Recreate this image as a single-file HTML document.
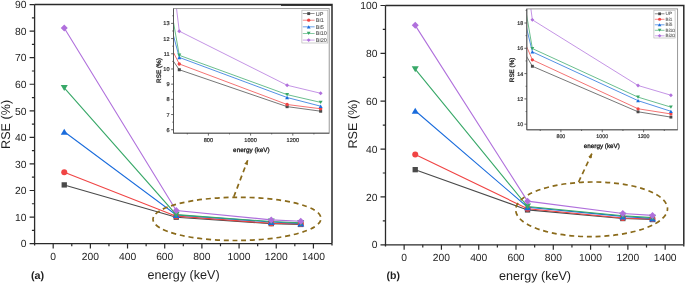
<!DOCTYPE html>
<html><head><meta charset="utf-8"><style>
html,body{margin:0;padding:0;background:#fff;width:685px;height:283px;overflow:hidden}
svg{display:block;will-change:transform}
text{font-family:"Liberation Sans", sans-serif;font-size:10.3px;fill:#1e1e1e;text-rendering:geometricPrecision}
.s{stroke:#333;stroke-width:0.2px}
.t{stroke:#222;stroke-width:0.3px;fill:#1a1a1a}
.g{stroke:#777;stroke-width:0.08px;fill:#444}
</style></head><body>
<svg width="685" height="283" viewBox="0 0 685 283">
<rect width="685" height="283" fill="#fff"/>
<path d="M34.6 4.6H332V243.6" fill="none" stroke="#2a2a2a" stroke-width="1.5"/>
<path d="M281 5.4H332" fill="none" stroke="#2a2a2a" stroke-width="1"/>
<path d="M34.6 4.6V243.6H332" fill="none" stroke="#2a2a2a" stroke-width="1.3"/>
<path d="M34.6 243.6V245.4M332 243.6V245.4" fill="none" stroke="#2a2a2a" stroke-width="1.3"/>
<text x="26.4" y="247.29" text-anchor="end">0</text>
<text x="26.4" y="220.73" text-anchor="end">10</text>
<text x="26.4" y="194.18" text-anchor="end">20</text>
<text x="26.4" y="167.62" text-anchor="end">30</text>
<text x="26.4" y="141.06" text-anchor="end">40</text>
<text x="26.4" y="114.51" text-anchor="end">50</text>
<text x="26.4" y="87.95" text-anchor="end">60</text>
<text x="26.4" y="61.4" text-anchor="end">70</text>
<text x="26.4" y="34.84" text-anchor="end">80</text>
<text x="26.4" y="8.28" text-anchor="end">90</text>
<text x="53.19" y="259.6" text-anchor="middle">0</text>
<text x="90.37" y="259.6" text-anchor="middle">200</text>
<text x="127.54" y="259.6" text-anchor="middle">400</text>
<text x="164.72" y="259.6" text-anchor="middle">600</text>
<text x="201.89" y="259.6" text-anchor="middle">800</text>
<text x="239.07" y="259.6" text-anchor="middle">1000</text>
<text x="276.25" y="259.6" text-anchor="middle">1200</text>
<text x="313.42" y="259.6" text-anchor="middle">1400</text>
<path d="M29.6 243.6H34.6M29.6 217.04H34.6M29.6 190.49H34.6M29.6 163.93H34.6M29.6 137.38H34.6M29.6 110.82H34.6M29.6 84.26H34.6M29.6 57.71H34.6M29.6 31.15H34.6M29.6 4.6H34.6M31.9 230.32H34.6M31.9 203.77H34.6M31.9 177.21H34.6M31.9 150.65H34.6M31.9 124.1H34.6M31.9 97.54H34.6M31.9 70.99H34.6M31.9 44.43H34.6M31.9 17.87H34.6M53.19 243.6V248.6M90.37 243.6V248.6M127.54 243.6V248.6M164.72 243.6V248.6M201.89 243.6V248.6M239.07 243.6V248.6M276.25 243.6V248.6M313.42 243.6V248.6M71.78 243.6V246.3M108.95 243.6V246.3M146.13 243.6V246.3M183.31 243.6V246.3M220.48 243.6V246.3M257.66 243.6V246.3M294.83 243.6V246.3" fill="none" stroke="#2a2a2a" stroke-width="1.2"/>
<text x="183.6" y="278.6" text-anchor="middle" style="font-size:12.6px">energy (keV)</text>
<text transform="translate(10 124.4) rotate(-90)" text-anchor="middle" style="font-size:12.6px">RSE (%)</text>
<text x="31" y="278.8" style="font-size:10.8px;font-weight:bold">(a)</text>
<polyline points="64.25,184.91 176.24,217.18 271.23,223.63 300.78,224.43" fill="none" stroke="#4a4a4a" stroke-width="1.1"/>
<polyline points="64.25,172.16 176.24,216.17 271.23,223.26 300.78,224" fill="none" stroke="#f04444" stroke-width="1.1"/>
<polyline points="64.25,131.8 176.24,215.03 271.23,222.04 300.78,223.55" fill="none" stroke="#1a6cdc" stroke-width="1.1"/>
<polyline points="64.25,87.98 176.24,214.65 271.23,221.53 300.78,222.89" fill="none" stroke="#38a868" stroke-width="1.1"/>
<polyline points="64.25,27.97 176.24,210.43 271.23,219.89 300.78,221.29" fill="none" stroke="#b070dc" stroke-width="1.1"/>
<rect x="61.59" y="182.25" width="5.32" height="5.32" fill="#4a4a4a"/>
<rect x="173.58" y="214.52" width="5.32" height="5.32" fill="#4a4a4a"/>
<rect x="268.57" y="220.97" width="5.32" height="5.32" fill="#4a4a4a"/>
<rect x="298.12" y="221.77" width="5.32" height="5.32" fill="#4a4a4a"/>
<circle cx="64.25" cy="172.16" r="3.01" fill="#f04444"/>
<circle cx="176.24" cy="216.17" r="3.01" fill="#f04444"/>
<circle cx="271.23" cy="223.26" r="3.01" fill="#f04444"/>
<circle cx="300.78" cy="224" r="3.01" fill="#f04444"/>
<path d="M64.25 128.79L67.75 134.81L60.75 134.81Z" fill="#1a6cdc"/>
<path d="M176.24 212.02L179.74 218.04L172.74 218.04Z" fill="#1a6cdc"/>
<path d="M271.23 219.03L274.73 225.05L267.73 225.05Z" fill="#1a6cdc"/>
<path d="M300.78 220.54L304.28 226.56L297.28 226.56Z" fill="#1a6cdc"/>
<path d="M60.75 84.97L67.75 84.97L64.25 90.99Z" fill="#38a868"/>
<path d="M172.74 211.64L179.74 211.64L176.24 217.66Z" fill="#38a868"/>
<path d="M267.73 218.52L274.73 218.52L271.23 224.54Z" fill="#38a868"/>
<path d="M297.28 219.88L304.28 219.88L300.78 225.9Z" fill="#38a868"/>
<path d="M64.25 24.47L67.75 27.97L64.25 31.47L60.75 27.97Z" fill="#b070dc"/>
<path d="M176.24 206.93L179.74 210.43L176.24 213.93L172.74 210.43Z" fill="#b070dc"/>
<path d="M271.23 216.39L274.73 219.89L271.23 223.39L267.73 219.89Z" fill="#b070dc"/>
<path d="M300.78 217.79L304.28 221.29L300.78 224.79L297.28 221.29Z" fill="#b070dc"/>
<ellipse cx="237" cy="218.9" rx="84" ry="21.6" transform="rotate(-0.3 237 218.9)" fill="none" stroke="#8a6a1a" stroke-width="1.7" stroke-dasharray="5 3.8" stroke-dashoffset="6.9"/>
<path d="M233.8 196.8L247.7 160.2" fill="none" stroke="#8a6a1a" stroke-width="1.7" stroke-dasharray="5 3.8"/>
<path d="M247.7 160.2L247.84 165.17L244.29 163.83Z" fill="#8a6a1a"/>
<rect x="173.5" y="8.6" width="155.7" height="124.6" fill="#fff"/>
<clipPath id="ca"><rect x="173.5" y="8.6" width="155.7" height="124.6"/></clipPath>
<g clip-path="url(#ca)">
<polyline points="52.15,-114.83 179.28,69.73 287.1,106.64 320.65,111.2" fill="none" stroke="#4a4a4a" stroke-width="0.75"/>
<polyline points="52.15,-187.74 179.28,63.96 287.1,104.51 320.65,108.77" fill="none" stroke="#f04444" stroke-width="0.75"/>
<polyline points="52.15,-418.63 179.28,57.43 287.1,97.53 320.65,106.19" fill="none" stroke="#1a6cdc" stroke-width="0.75"/>
<polyline points="52.15,-669.26 179.28,55.3 287.1,94.64 320.65,102.39" fill="none" stroke="#38a868" stroke-width="0.75"/>
<polyline points="52.15,-1012.56 179.28,31.15 287.1,85.22 320.65,93.27" fill="none" stroke="#b070dc" stroke-width="0.75"/>
<rect x="177.76" y="68.21" width="3.04" height="3.04" fill="#4a4a4a"/>
<rect x="285.58" y="105.12" width="3.04" height="3.04" fill="#4a4a4a"/>
<rect x="319.13" y="109.68" width="3.04" height="3.04" fill="#4a4a4a"/>
<circle cx="179.28" cy="63.96" r="1.72" fill="#f04444"/>
<circle cx="287.1" cy="104.51" r="1.72" fill="#f04444"/>
<circle cx="320.65" cy="108.77" r="1.72" fill="#f04444"/>
<path d="M179.28 55.71L181.28 59.15L177.28 59.15Z" fill="#1a6cdc"/>
<path d="M287.1 95.81L289.1 99.25L285.1 99.25Z" fill="#1a6cdc"/>
<path d="M320.65 104.47L322.65 107.91L318.65 107.91Z" fill="#1a6cdc"/>
<path d="M177.28 53.58L181.28 53.58L179.28 57.02Z" fill="#38a868"/>
<path d="M285.1 92.92L289.1 92.92L287.1 96.36Z" fill="#38a868"/>
<path d="M318.65 100.67L322.65 100.67L320.65 104.11Z" fill="#38a868"/>
<path d="M179.28 29.15L181.28 31.15L179.28 33.15L177.28 31.15Z" fill="#b070dc"/>
<path d="M287.1 83.22L289.1 85.22L287.1 87.22L285.1 85.22Z" fill="#b070dc"/>
<path d="M320.65 91.27L322.65 93.27L320.65 95.27L318.65 93.27Z" fill="#b070dc"/>
</g>
<rect x="173.5" y="8.6" width="155.7" height="124.6" fill="none" stroke="#8c8c8c" stroke-width="0.9"/>
<path d="M173.5 8.6V133.2H329.2" fill="none" stroke="#505050" stroke-width="0.95"/>
<text class="s" x="169.6" y="131.73" text-anchor="end" style="font-size:5.6px">6</text>
<text class="s" x="169.6" y="116.54" text-anchor="end" style="font-size:5.6px">7</text>
<text class="s" x="169.6" y="101.35" text-anchor="end" style="font-size:5.6px">8</text>
<text class="s" x="169.6" y="86.16" text-anchor="end" style="font-size:5.6px">9</text>
<text class="s" x="169.6" y="70.97" text-anchor="end" style="font-size:5.6px">10</text>
<text class="s" x="169.6" y="55.78" text-anchor="end" style="font-size:5.6px">11</text>
<text class="s" x="169.6" y="40.59" text-anchor="end" style="font-size:5.6px">12</text>
<text class="s" x="169.6" y="25.4" text-anchor="end" style="font-size:5.6px">13</text>
<text class="s" x="208.4" y="142" text-anchor="middle" style="font-size:5.6px">800</text>
<text class="s" x="250.6" y="142" text-anchor="middle" style="font-size:5.6px">1000</text>
<text class="s" x="292.8" y="142" text-anchor="middle" style="font-size:5.6px">1200</text>
<path d="M171.1 129.73H173.5M171.1 114.54H173.5M171.1 99.35H173.5M171.1 84.16H173.5M171.1 68.97H173.5M171.1 53.78H173.5M171.1 38.59H173.5M171.1 23.4H173.5M172.3 122.13H173.5M172.3 106.94H173.5M172.3 91.75H173.5M172.3 76.56H173.5M172.3 61.38H173.5M172.3 46.19H173.5M172.3 30.99H173.5M172.3 15.8H173.5M208.4 133.2V135.6M250.6 133.2V135.6M292.8 133.2V135.6M187.3 133.2V134.4M229.5 133.2V134.4M271.7 133.2V134.4M313.9 133.2V134.4" fill="none" stroke="#444" stroke-width="0.8"/>
<text class="t" x="251.4" y="151.5" text-anchor="middle" style="font-size:6.4px">energy (keV)</text>
<text class="t" transform="translate(160.6 70.5) rotate(-90)" text-anchor="middle" style="font-size:6.4px">RSE (%)</text>
<rect x="301.9" y="10.2" width="25.9" height="32.8" fill="#fff" stroke="#aaa" stroke-width="0.6"/>
<path d="M302.8 13.6H314.6" stroke="#4a4a4a" stroke-width="0.75" opacity="0.85"/>
<rect x="307.26" y="12.16" width="2.89" height="2.89" fill="#4a4a4a"/>
<text class="g" x="315.8" y="15.58" style="font-size:5.5px">UP</text>
<path d="M302.8 20.22H314.6" stroke="#f04444" stroke-width="0.75" opacity="0.85"/>
<circle cx="308.7" cy="20.22" r="1.63" fill="#f04444"/>
<text class="g" x="315.8" y="22.2" style="font-size:5.5px">Bi1</text>
<path d="M302.8 26.84H314.6" stroke="#1a6cdc" stroke-width="0.75" opacity="0.85"/>
<path d="M308.7 25.21L310.6 28.47L306.8 28.47Z" fill="#1a6cdc"/>
<text class="g" x="315.8" y="28.82" style="font-size:5.5px">Bi5</text>
<path d="M302.8 33.46H314.6" stroke="#38a868" stroke-width="0.75" opacity="0.85"/>
<path d="M306.8 31.83L310.6 31.83L308.7 35.09Z" fill="#38a868"/>
<text class="g" x="315.8" y="35.44" style="font-size:5.5px">Bi10</text>
<path d="M302.8 40.08H314.6" stroke="#b070dc" stroke-width="0.75" opacity="0.85"/>
<path d="M308.7 38.18L310.6 40.08L308.7 41.98L306.8 40.08Z" fill="#b070dc"/>
<text class="g" x="315.8" y="42.06" style="font-size:5.5px">Bi20</text>
<path d="M385.5 5.5H683.8V244.8" fill="none" stroke="#2a2a2a" stroke-width="1.5"/>
<path d="M385.5 5.5V244.8H683.8" fill="none" stroke="#2a2a2a" stroke-width="1.3"/>
<path d="M385.5 244.8V246.6M683.8 244.8V246.6" fill="none" stroke="#2a2a2a" stroke-width="1.3"/>
<text x="377.5" y="248.49" text-anchor="end">0</text>
<text x="377.5" y="200.63" text-anchor="end">20</text>
<text x="377.5" y="152.77" text-anchor="end">40</text>
<text x="377.5" y="104.91" text-anchor="end">60</text>
<text x="377.5" y="57.05" text-anchor="end">80</text>
<text x="377.5" y="9.19" text-anchor="end">100</text>
<text x="404.14" y="261" text-anchor="middle">0</text>
<text x="441.43" y="261" text-anchor="middle">200</text>
<text x="478.72" y="261" text-anchor="middle">400</text>
<text x="516" y="261" text-anchor="middle">600</text>
<text x="553.29" y="261" text-anchor="middle">800</text>
<text x="590.58" y="261" text-anchor="middle">1000</text>
<text x="627.87" y="261" text-anchor="middle">1200</text>
<text x="665.16" y="261" text-anchor="middle">1400</text>
<path d="M380.5 244.8H385.5M380.5 196.94H385.5M380.5 149.08H385.5M380.5 101.22H385.5M380.5 53.36H385.5M380.5 5.5H385.5M382.8 220.87H385.5M382.8 173.01H385.5M382.8 125.15H385.5M382.8 77.29H385.5M382.8 29.43H385.5M404.14 244.8V249.8M441.43 244.8V249.8M478.72 244.8V249.8M516 244.8V249.8M553.29 244.8V249.8M590.58 244.8V249.8M627.87 244.8V249.8M665.16 244.8V249.8M422.78 244.8V247.5M460.07 244.8V247.5M497.36 244.8V247.5M534.65 244.8V247.5M571.94 244.8V247.5M609.22 244.8V247.5M646.51 244.8V247.5" fill="none" stroke="#2a2a2a" stroke-width="1.2"/>
<text x="535" y="279.5" text-anchor="middle" style="font-size:12.6px">energy (keV)</text>
<text transform="translate(357 124) rotate(-90)" text-anchor="middle" style="font-size:12.6px">RSE (%)</text>
<text x="386.5" y="279" style="font-size:10.5px;font-weight:bold">(b)</text>
<polyline points="415.23,169.66 527.56,209.91 622.83,218.52 652.48,219.53" fill="none" stroke="#4a4a4a" stroke-width="1.1"/>
<polyline points="415.23,154.58 527.56,208.69 622.83,217.95 652.48,218.93" fill="none" stroke="#f04444" stroke-width="1.1"/>
<polyline points="415.23,110.79 527.56,207.18 622.83,216.42 652.48,218.43" fill="none" stroke="#1a6cdc" stroke-width="1.1"/>
<polyline points="415.23,69.15 527.56,206.56 622.83,215.75 652.48,217.64" fill="none" stroke="#38a868" stroke-width="1.1"/>
<polyline points="415.23,25.36 527.56,201.13 622.83,213.55 652.48,215.39" fill="none" stroke="#b070dc" stroke-width="1.1"/>
<rect x="412.57" y="167" width="5.32" height="5.32" fill="#4a4a4a"/>
<rect x="524.9" y="207.25" width="5.32" height="5.32" fill="#4a4a4a"/>
<rect x="620.17" y="215.86" width="5.32" height="5.32" fill="#4a4a4a"/>
<rect x="649.82" y="216.87" width="5.32" height="5.32" fill="#4a4a4a"/>
<circle cx="415.23" cy="154.58" r="3.01" fill="#f04444"/>
<circle cx="527.56" cy="208.69" r="3.01" fill="#f04444"/>
<circle cx="622.83" cy="217.95" r="3.01" fill="#f04444"/>
<circle cx="652.48" cy="218.93" r="3.01" fill="#f04444"/>
<path d="M415.23 107.78L418.73 113.8L411.73 113.8Z" fill="#1a6cdc"/>
<path d="M527.56 204.17L531.06 210.19L524.06 210.19Z" fill="#1a6cdc"/>
<path d="M622.83 213.41L626.33 219.43L619.33 219.43Z" fill="#1a6cdc"/>
<path d="M652.48 215.42L655.98 221.44L648.98 221.44Z" fill="#1a6cdc"/>
<path d="M411.73 66.14L418.73 66.14L415.23 72.16Z" fill="#38a868"/>
<path d="M524.06 203.55L531.06 203.55L527.56 209.57Z" fill="#38a868"/>
<path d="M619.33 212.74L626.33 212.74L622.83 218.76Z" fill="#38a868"/>
<path d="M648.98 214.63L655.98 214.63L652.48 220.65Z" fill="#38a868"/>
<path d="M415.23 21.86L418.73 25.36L415.23 28.86L411.73 25.36Z" fill="#b070dc"/>
<path d="M527.56 197.63L531.06 201.13L527.56 204.63L524.06 201.13Z" fill="#b070dc"/>
<path d="M622.83 210.05L626.33 213.55L622.83 217.05L619.33 213.55Z" fill="#b070dc"/>
<path d="M652.48 211.89L655.98 215.39L652.48 218.89L648.98 215.39Z" fill="#b070dc"/>
<ellipse cx="591.6" cy="209.3" rx="75.9" ry="27.3" transform="rotate(-0.5 591.6 209.3)" fill="none" stroke="#8a6a1a" stroke-width="1.7" stroke-dasharray="5 3.8" stroke-dashoffset="2.5"/>
<path d="M578.6 182L592 153.3" fill="none" stroke="#8a6a1a" stroke-width="1.7" stroke-dasharray="5 3.8"/>
<path d="M592 153.3L591.78 158.27L588.33 156.66Z" fill="#8a6a1a"/>
<rect x="526.8" y="8.9" width="150.8" height="120.9" fill="#fff"/>
<clipPath id="cb"><rect x="526.8" y="8.9" width="150.8" height="120.9"/></clipPath>
<g clip-path="url(#cb)">
<polyline points="407.76,-146.51 532.36,66.26 638.04,111.8 670.92,117.12" fill="none" stroke="#4a4a4a" stroke-width="0.75"/>
<polyline points="407.76,-226.21 532.36,59.81 638.04,108.77 670.92,113.95" fill="none" stroke="#f04444" stroke-width="0.75"/>
<polyline points="407.76,-457.7 532.36,51.84 638.04,100.67 670.92,111.3" fill="none" stroke="#1a6cdc" stroke-width="0.75"/>
<polyline points="407.76,-677.81 532.36,48.55 638.04,97.13 670.92,107.12" fill="none" stroke="#38a868" stroke-width="0.75"/>
<polyline points="407.76,-909.31 532.36,19.84 638.04,85.49 670.92,95.23" fill="none" stroke="#b070dc" stroke-width="0.75"/>
<rect x="530.92" y="64.82" width="2.89" height="2.89" fill="#4a4a4a"/>
<rect x="636.59" y="110.36" width="2.89" height="2.89" fill="#4a4a4a"/>
<rect x="669.47" y="115.67" width="2.89" height="2.89" fill="#4a4a4a"/>
<circle cx="532.36" cy="59.81" r="1.63" fill="#f04444"/>
<circle cx="638.04" cy="108.77" r="1.63" fill="#f04444"/>
<circle cx="670.92" cy="113.95" r="1.63" fill="#f04444"/>
<path d="M532.36 50.21L534.26 53.48L530.46 53.48Z" fill="#1a6cdc"/>
<path d="M638.04 99.04L639.94 102.31L636.14 102.31Z" fill="#1a6cdc"/>
<path d="M670.92 109.66L672.82 112.93L669.02 112.93Z" fill="#1a6cdc"/>
<path d="M530.46 46.92L534.26 46.92L532.36 50.19Z" fill="#38a868"/>
<path d="M636.14 95.49L639.94 95.49L638.04 98.76Z" fill="#38a868"/>
<path d="M669.02 105.49L672.82 105.49L670.92 108.76Z" fill="#38a868"/>
<path d="M532.36 17.94L534.26 19.84L532.36 21.74L530.46 19.84Z" fill="#b070dc"/>
<path d="M638.04 83.59L639.94 85.49L638.04 87.39L636.14 85.49Z" fill="#b070dc"/>
<path d="M670.92 93.33L672.82 95.23L670.92 97.13L669.02 95.23Z" fill="#b070dc"/>
</g>
<rect x="526.8" y="8.9" width="150.8" height="120.9" fill="none" stroke="#8c8c8c" stroke-width="0.9"/>
<path d="M526.8 8.9V129.8H677.6" fill="none" stroke="#505050" stroke-width="0.95"/>
<text class="s" x="523.2" y="126.1" text-anchor="end" style="font-size:5.3px">10</text>
<text class="s" x="523.2" y="100.8" text-anchor="end" style="font-size:5.3px">12</text>
<text class="s" x="523.2" y="75.5" text-anchor="end" style="font-size:5.3px">14</text>
<text class="s" x="523.2" y="50.2" text-anchor="end" style="font-size:5.3px">16</text>
<text class="s" x="523.2" y="24.9" text-anchor="end" style="font-size:5.3px">18</text>
<text class="s" x="560.9" y="138" text-anchor="middle" style="font-size:5.3px">800</text>
<text class="s" x="602.26" y="138" text-anchor="middle" style="font-size:5.3px">1000</text>
<text class="s" x="643.62" y="138" text-anchor="middle" style="font-size:5.3px">1200</text>
<path d="M524.4 124.2H526.8M524.4 98.9H526.8M524.4 73.6H526.8M524.4 48.3H526.8M524.4 23H526.8M525.6 111.55H526.8M525.6 86.25H526.8M525.6 60.95H526.8M525.6 35.65H526.8M525.6 10.35H526.8M560.9 129.8V132.2M602.26 129.8V132.2M643.62 129.8V132.2M540.22 129.8V131M581.58 129.8V131M622.94 129.8V131M664.3 129.8V131" fill="none" stroke="#444" stroke-width="0.8"/>
<text class="t" x="601.9" y="147.7" text-anchor="middle" style="font-size:6.3px">energy (keV)</text>
<text class="t" transform="translate(514.1 69.9) rotate(-90)" text-anchor="middle" style="font-size:6.3px">RSE (%)</text>
<rect x="653.9" y="10.2" width="21.2" height="27.8" fill="#fff" stroke="#aaa" stroke-width="0.6"/>
<path d="M654.8 13.8H664.5" stroke="#4a4a4a" stroke-width="0.75" opacity="0.85"/>
<rect x="658.23" y="12.43" width="2.74" height="2.74" fill="#4a4a4a"/>
<text class="g" x="665.6" y="15.49" style="font-size:4.7px">UP</text>
<path d="M654.8 19.3H664.5" stroke="#f04444" stroke-width="0.75" opacity="0.85"/>
<circle cx="659.6" cy="19.3" r="1.55" fill="#f04444"/>
<text class="g" x="665.6" y="20.99" style="font-size:4.7px">Bi1</text>
<path d="M654.8 24.8H664.5" stroke="#1a6cdc" stroke-width="0.75" opacity="0.85"/>
<path d="M659.6 23.25L661.4 26.35L657.8 26.35Z" fill="#1a6cdc"/>
<text class="g" x="665.6" y="26.49" style="font-size:4.7px">Bi5</text>
<path d="M654.8 30.3H664.5" stroke="#38a868" stroke-width="0.75" opacity="0.85"/>
<path d="M657.8 28.75L661.4 28.75L659.6 31.85Z" fill="#38a868"/>
<text class="g" x="665.6" y="31.99" style="font-size:4.7px">Bi10</text>
<path d="M654.8 35.8H664.5" stroke="#b070dc" stroke-width="0.75" opacity="0.85"/>
<path d="M659.6 33.99L661.4 35.8L659.6 37.6L657.8 35.8Z" fill="#b070dc"/>
<text class="g" x="665.6" y="37.49" style="font-size:4.7px">Bi20</text>
</svg>
</body></html>
